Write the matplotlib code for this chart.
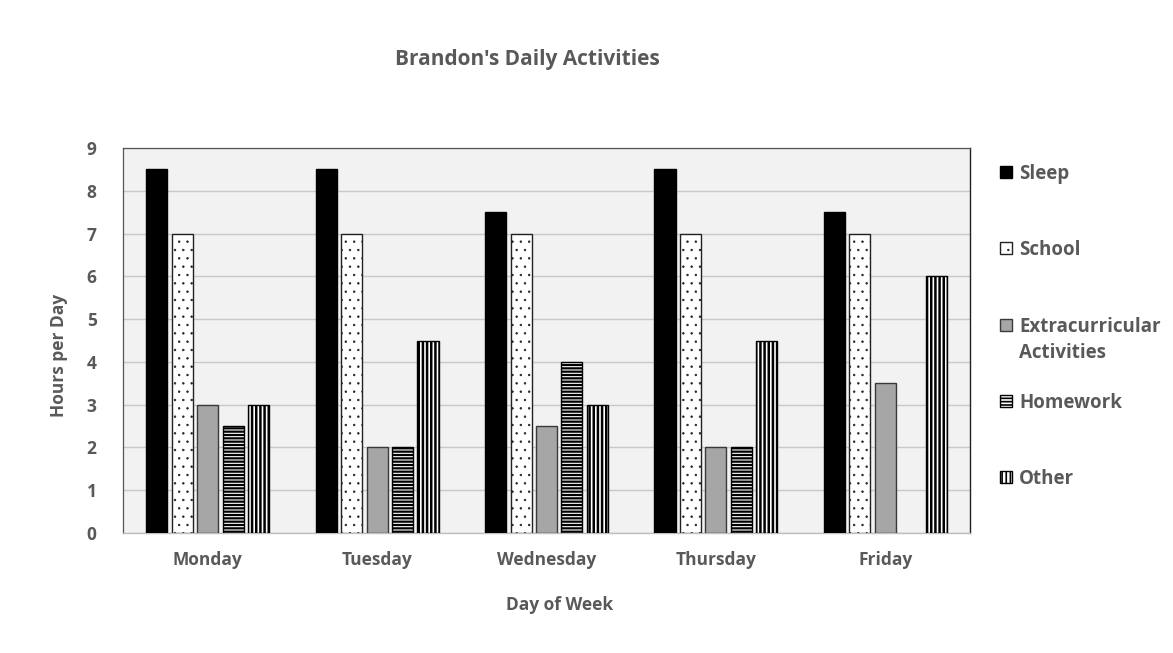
import numpy as np
import matplotlib
matplotlib.use("Agg")
import matplotlib.pyplot as plt
from matplotlib.patches import Rectangle

days = ["Monday", "Tuesday", "Wednesday", "Thursday", "Friday"]
series_names = ["Sleep", "School", "Extracurricular\nActivities", "Homework", "Other"]
sleep = [8.5, 8.5, 7.5, 8.5, 7.5]
school = [7, 7, 7, 7, 7]
extracurricular = [3, 2, 2.5, 2, 3.5]
homework = [2.5, 2, 4, 2, 0]
other = [3, 4.5, 3, 4.5, 6]
yticks = list(range(0, 10))

values = [sleep, school, extracurricular, homework, other]
styles = [
    dict(color="black", edgecolor="black", hatch=None, hlw=1.0),
    dict(color="white", edgecolor="#222222", hatch="..", hlw=0.5),
    dict(color="#a6a6a6", edgecolor="#3a3a3a", hatch=None, hlw=1.0),
    dict(color="white", edgecolor="black", hatch="-----", hlw=1.6),
    dict(color="white", edgecolor="black", hatch="||||", hlw=1.8),
]

FONT = "Open Sans"
TXT = "#595959"

fig = plt.figure(figsize=(11.73, 6.53), dpi=100)
ax = fig.add_axes([123/1173, 1-533/653, (970-123)/1173, (533-148)/653])
ax.set_facecolor("#f2f2f2")

x = np.arange(len(days))
pitch = 0.15
width = 0.125
for i, (vals, st) in enumerate(zip(values, styles)):
    plt.rcParams["hatch.linewidth"] = st["hlw"]
    ec = [st["edgecolor"] if v > 0 else "none" for v in vals]
    ax.bar(x + (i - 2) * pitch, vals, width, color=st["color"], edgecolor=ec,
           hatch=st["hatch"], linewidth=1.0, zorder=3)

ax.set_xlim(-0.5, len(days) - 0.5)
ax.set_ylim(0, 9)
ax.set_yticks(yticks)
ax.set_xticks(x)
ax.set_xticklabels(days)
ax.yaxis.grid(True, color="#c8c8c8", linewidth=1.0, zorder=0)
ax.set_axisbelow(True)
ax.tick_params(axis="both", length=0, labelsize=12.5, labelcolor=TXT)
ax.tick_params(axis="x", pad=13)
ax.tick_params(axis="y", pad=19)
for lab in ax.get_xticklabels() + ax.get_yticklabels():
    lab.set_fontfamily(FONT)
    lab.set_fontweight("bold")
for s in ["left", "top"]:
    ax.spines[s].set_color("#555555")
    ax.spines[s].set_linewidth(0.9)
ax.spines["right"].set_color("#222222")
ax.spines["right"].set_linewidth(1.0)
ax.spines["bottom"].set_color("#bfbfbf")
ax.spines["bottom"].set_linewidth(1.0)

fig.text(527/1173, 1-59/653, "Brandon's Daily Activities", ha="center", va="center",
         fontsize=15, fontweight="bold", color=TXT, family=FONT)
fig.text(560/1173, 1-605/653, "Day of Week", ha="center", va="center",
         fontsize=12.5, fontweight="bold", color=TXT, family=FONT)
fig.text(59/1173, 1-355/653, "Hours per Day", ha="center", va="center", rotation=90,
         fontsize=12.5, fontweight="bold", color=TXT, family=FONT)

# legend
rows = [172, 248, 325, 401, 477]
for name, st, ry in zip(series_names, styles, rows):
    plt.rcParams["hatch.linewidth"] = min(st["hlw"], 1.2)
    r = Rectangle((1000/1173, 1-(ry+6)/653), 12/1173, 12/653, transform=fig.transFigure,
                  facecolor=st["color"], edgecolor=st["edgecolor"], hatch=st["hatch"],
                  linewidth=1.0)
    fig.add_artist(r)
    fig.text(1019/1173, 1-(ry-8)/653, name, ha="left", va="top", fontsize=13.5,
             fontweight="bold", color=TXT, family=FONT, linespacing=1.4)

fig.savefig("out.png", dpi=100)
